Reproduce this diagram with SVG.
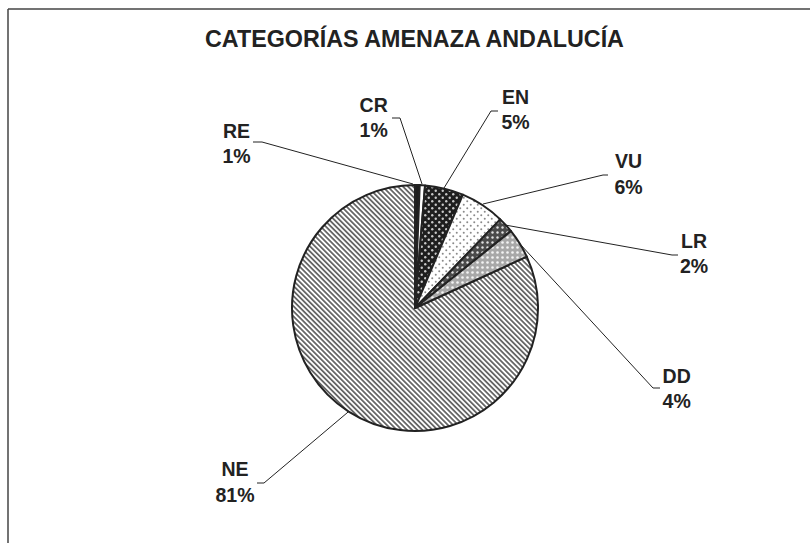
<svg xmlns="http://www.w3.org/2000/svg" width="810" height="543" viewBox="0 0 810 543">
<style>
.lbl{font-family:"Liberation Sans",Arial,sans-serif;font-weight:bold;font-size:19.5px;fill:#222;text-anchor:middle}
.title{font-family:"Liberation Sans",Arial,sans-serif;font-weight:bold;font-size:23.3px;fill:#222;text-anchor:middle}
.slice{stroke:#222;stroke-width:2;stroke-linejoin:round}
.lead{fill:none;stroke:#222;stroke-width:1}
</style>
<defs>
<pattern id="pNE" width="3.6" height="3.6" patternUnits="userSpaceOnUse" patternTransform="rotate(-45)">
<rect width="3.6" height="3.6" fill="#fff"/>
<line x1="1.8" y1="0" x2="1.8" y2="3.6" stroke="#5e5e5e" stroke-width="1.7"/>
</pattern>
<pattern id="pEN" width="7" height="7" patternUnits="userSpaceOnUse">
<rect width="7" height="7" fill="#1e1e1e"/>
<circle cx="1.75" cy="1.75" r="1.2" fill="#c8c8c8"/>
<circle cx="5.25" cy="5.25" r="1.2" fill="#c8c8c8"/>
</pattern>
<pattern id="pVU" width="7" height="7" patternUnits="userSpaceOnUse">
<rect width="7" height="7" fill="#fff"/>
<circle cx="1.75" cy="1.75" r="1" fill="#8a8a8a"/>
<circle cx="5.25" cy="5.25" r="1" fill="#8a8a8a"/>
</pattern>
<pattern id="pLR" width="5" height="5" patternUnits="userSpaceOnUse">
<rect width="5" height="5" fill="#4a4a4a"/>
<circle cx="2.5" cy="2.5" r="1.2" fill="#e0e0e0"/>
</pattern>
<pattern id="pDD" width="5" height="5" patternUnits="userSpaceOnUse">
<rect width="5" height="5" fill="#a8a8a8"/>
<circle cx="2.5" cy="2.5" r="1.3" fill="#f4f4f4"/>
</pattern>
</defs>
<rect width="810" height="543" fill="#fff"/>
<g id="frame" stroke="#444" stroke-width="1.5" fill="none">
<line x1="8" y1="9" x2="810" y2="9"/>
<line x1="8" y1="9" x2="8" y2="543"/>
</g>
<text id="title" class="title" x="414.5" y="47">CATEGORÍAS AMENAZA ANDALUCÍA</text>
<g id="connectors">
<polyline class="lead" points="253,142 262,142 413,184"/>
<polyline class="lead" points="392,118 400,118 422,184"/>
<polyline class="lead" points="498,111 491,111 444,188"/>
<polyline class="lead" points="608,175 603,175 483,204"/>
<polyline class="lead" points="505,225 672,255 678,255"/>
<polyline class="lead" points="520,244 653,388 660,388"/>
<polyline class="lead" points="257,483 264,483 348.6,411.6"/>
</g>
<g id="slice-NE"><path class="slice" fill="url(#pNE)" d="M415,308 L526.75,256.6 A123,123 0 1 1 415,185 Z"/></g>
<g id="slice-RE"><path class="slice" fill="#1e1e1e" d="M415,308 L415,185 A123,123 0 0 1 419.72,185.09 Z"/></g>
<g id="slice-CR"><path class="slice" fill="#fff" d="M415,308 L419.72,185.09 A123,123 0 0 1 425.08,185.41 Z"/></g>
<g id="slice-EN"><path class="slice" fill="url(#pEN)" d="M415,308 L425.08,185.41 A123,123 0 0 1 462.86,194.69 Z"/></g>
<g id="slice-VU"><path class="slice" fill="url(#pVU)" d="M415,308 L462.86,194.69 A123,123 0 0 1 500.29,219.37 Z"/></g>
<g id="slice-LR"><path class="slice" fill="url(#pLR)" d="M415,308 L500.29,219.37 A123,123 0 0 1 510.99,231.1 Z"/></g>
<g id="slice-DD"><path class="slice" fill="url(#pDD)" d="M415,308 L510.99,231.1 A123,123 0 0 1 526.75,256.6 Z"/></g>
<g id="label-RE"><text class="lbl" x="236.5" y="138">RE</text><text class="lbl" x="236.5" y="163">1%</text></g>
<g id="label-CR"><text class="lbl" x="373.7" y="112">CR</text><text class="lbl" x="373.7" y="137">1%</text></g>
<g id="label-EN"><text class="lbl" x="515.5" y="104">EN</text><text class="lbl" x="515.5" y="129">5%</text></g>
<g id="label-VU"><text class="lbl" x="628.5" y="168">VU</text><text class="lbl" x="628.5" y="194">6%</text></g>
<g id="label-LR"><text class="lbl" x="694" y="248">LR</text><text class="lbl" x="694" y="273">2%</text></g>
<g id="label-DD"><text class="lbl" x="676.7" y="383">DD</text><text class="lbl" x="676.7" y="408">4%</text></g>
<g id="label-NE"><text class="lbl" x="235" y="476">NE</text><text class="lbl" x="235" y="502">81%</text></g>
</svg>
